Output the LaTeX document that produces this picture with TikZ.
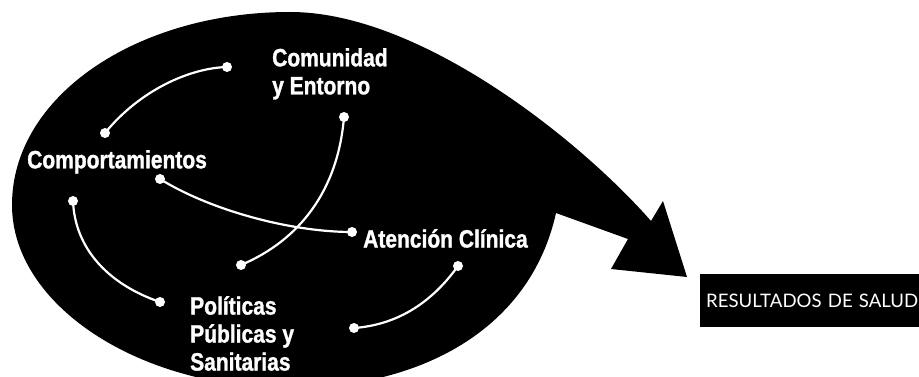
\documentclass[tikz,border=0pt]{standalone}
\usepackage{fontspec}
\newfontfamily\tagfont[FakeStretch=0.84,FakeBold=1.2]{Liberation Sans}
\newfontfamily\boxfont{Lato}
\tikzset{
  tag/.style={anchor=north west, inner sep=0pt, text=white, align=left,
    font=\tagfont\bfseries\fontsize{25}{28}\selectfont},
  dot/.style={circle, fill=white, inner sep=0pt, minimum size=10pt},
  link/.style={draw=white, line width=2.2pt}
}
\begin{document}
\begin{tikzpicture}[x=1pt,y=-1pt]
      \useasboundingbox (0,0) rectangle (919,377);
      \clip (0,0) rectangle (919,377);
      % blob with arrow
      \fill[black] (12,205) .. controls (12,96) and (137,12) .. (290,12)
        .. controls (420,12) and (580,140) .. (651,221)
        -- (663,201) -- (687,277) -- (611,269) -- (628,239) -- (556,213)
        .. controls (530,330) and (420,388) .. (290,388)
        .. controls (137,388) and (12,304) .. (12,205) -- cycle;
      % result
      \node[fill=black, text=white, anchor=north west, minimum height=53pt,
        minimum width=240pt, inner sep=0pt, text width=240pt, align=left,
        font=\boxfont\fontsize{18.6}{20}\selectfont]
        (res) at (700,274) {\hspace*{6pt}RESULTADOS DE SALUD};
      % labels
      \node[tag] (com) at (272,48) {Comunidad\\y Entorno};
      \node[tag] (beh) at (27,150) {Comportamientos};
      \node[tag] (cli) at (363,229) {Atención Clínica};
      \node[tag] (pol) at (190,296) {Políticas\\Públicas y\\Sanitarias};
      % dots
      \node[dot] (b1) at (105,133) {};
      \node[dot] (c1) at (227,67) {};
      \node[dot] (b2) at (73,201) {};
      \node[dot] (p1) at (160,302) {};
      \node[dot] (b3) at (160,179) {};
      \node[dot] (a1) at (352,232) {};
      \node[dot] (c2) at (344,117) {};
      \node[dot] (p2) at (241,265) {};
      \node[dot] (a2) at (458,266) {};
      \node[dot] (p3) at (354,328) {};
      % links
      \begin{scope}[link]
        \draw (b1.center) .. controls (140,90) and (190,68) .. (c1.center);
        \draw (b2.center) .. controls (75,250) and (110,285) .. (p1.center);
        \draw (b3.center) .. controls (210,210) and (290,232) .. (a1.center);
        \draw (c2.center) .. controls (338,190) and (300,240) .. (p2.center);
        \draw (a2.center) .. controls (430,305) and (395,325) .. (p3.center);
      \end{scope}
    \end{tikzpicture}
\end{document}
